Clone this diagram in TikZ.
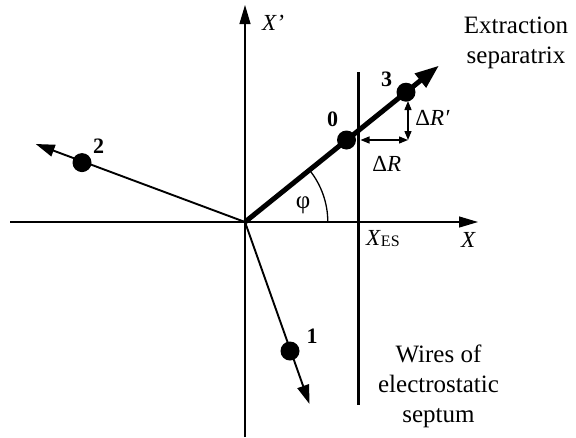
\documentclass[tikz,border=0pt]{standalone}
\usepackage{fontspec}
\setmainfont{Liberation Serif}
\usetikzlibrary{arrows.meta}
\begin{document}
\begin{tikzpicture}[x=1pt,y=1pt,
  axis/.style={line width=1.2pt,-{Triangle[length=19pt,width=11pt]}},
  ray/.style={line width=1.9pt,-{Triangle[length=19pt,width=12pt]}},
  sepx/.style={line width=5pt,-{Triangle[length=24pt,width=17pt]}},
  wire/.style={line width=3.5pt},
  dot/.style={circle,fill,inner sep=0pt,minimum size=19pt},
  num/.style={font=\fontsize{22}{22}\selectfont\bfseries, inner sep=0pt},
  lbl/.style={font=\fontsize{23}{23}\selectfont, inner sep=0pt},
  txt/.style={font=\fontsize{25}{25}\selectfont, inner sep=0pt, anchor=base},
  dimarrow/.style={line width=1.3pt,{Triangle[length=9pt,width=7pt]}-{Triangle[length=9pt,width=7pt]}}
]
\useasboundingbox (0,0) rectangle (576,-437);
% coordinates
\coordinate (O) at (245,-222);
\coordinate (xs) at (10,-222);
\coordinate (xe) at (478,-222);
\coordinate (ys) at (245,-437);
\coordinate (ye) at (245,-5);
\coordinate (wt) at (358.5,-72);
\coordinate (wb) at (358.5,-405);
\coordinate (tipS) at (439,-65.6);
\coordinate (tip1) at (309.5,-404);
\coordinate (tip2) at (35.7,-144);
\coordinate (C) at (408,-140);
\coordinate (dRl) at (360.5,-140);
\coordinate (dRt) at (408,-101);
% axes
\draw[axis] (xs) -- (xe);
\draw[axis] (ys) -- (ye);
% septum wires
\draw[wire] (wt) -- (wb);
% separatrix and rays
\draw[sepx] (O) -- (tipS);
\draw[ray] (O) -- (tip1);
\draw[ray] (O) -- (tip2);
% angle arc
\draw[line width=1.3pt] (327.8,-222) arc[start angle=0,end angle=38.8,radius=82.8];
% dots
\node[dot] (p0) at (346.5,-140) {};
\node[dot] (p3) at (406,-92.2) {};
\node[dot] (p1) at (290,-351) {};
\node[dot] (p2) at (82,-162.6) {};
% dimension arrows
\draw[dimarrow] (dRl) -- (C);
\draw[dimarrow] (dRt) -- (C);
% point labels
\node[num] (l0) at (332.5,-119) {0};
\node[num] (l1) at (312,-336) {1};
\node[num] (l2) at (98.5,-146) {2};
\node[num] (l3) at (386.5,-79) {3};
% axis labels
\node[lbl,anchor=base west] (lxp) at (262,-30) {\textit{X’}};
\node[lbl,anchor=base west] (lx) at (461,-247) {\textit{X}};
\node[lbl,anchor=base west] (lxes) at (366,-245) {\textit{X}\raisebox{-1pt}{\fontsize{16}{16}\selectfont ES}};
\node[lbl] (lphi) at (303,-205) {\fontsize{25}{25}\selectfont φ};
\node[lbl] (ldr) at (386.7,-164) {Δ\textit{R}};
\node[lbl] (ldrp) at (432.5,-117.5) {Δ\textit{R′}};
% texts
\node[txt] (e1) at (516,-33) {Extraction};
\node[txt] (e2) at (516,-63) {separatrix};
\node[txt] (w1) at (438.5,-362) {Wires of};
\node[txt] (w2) at (438.5,-392) {electrostatic};
\node[txt] (w3) at (438.5,-422) {septum};
\end{tikzpicture}
\end{document}
